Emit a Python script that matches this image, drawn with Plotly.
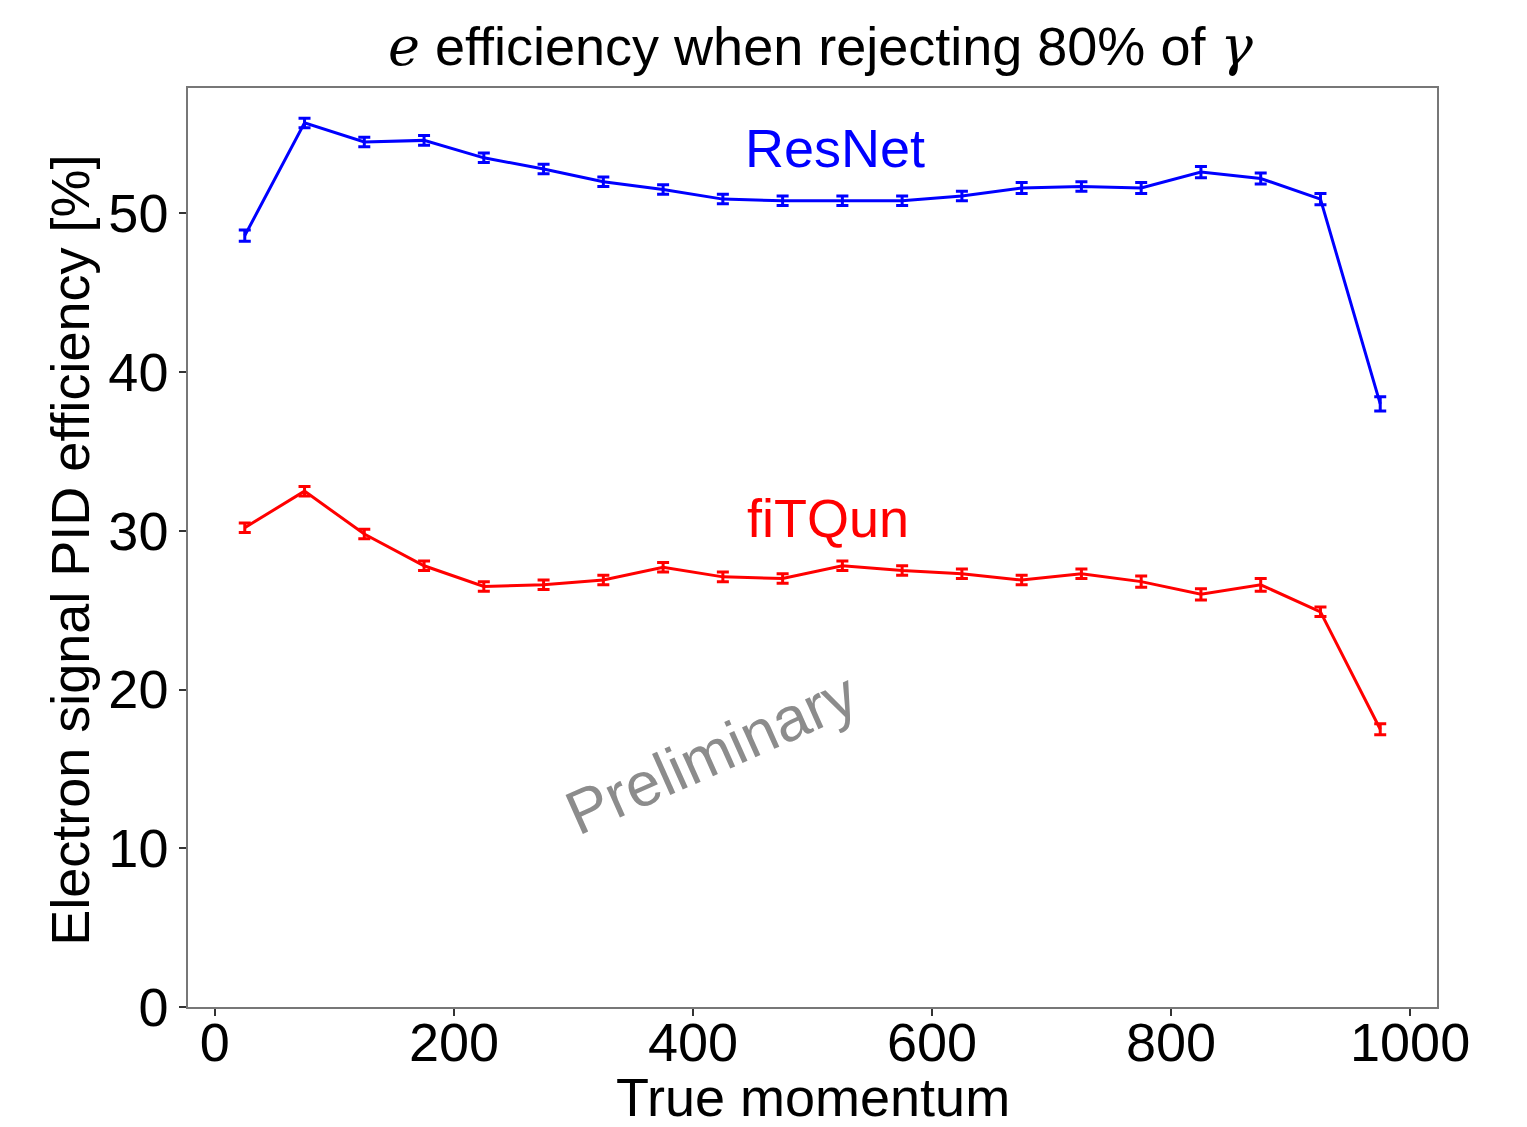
import plotly.graph_objects as go

momentum = [25, 75, 125, 175, 225, 275, 325, 375, 425, 475, 525, 575, 625, 675, 725, 775, 825, 875, 925, 975]
resnet_eff = [48.6, 55.7, 54.5, 54.6, 53.5, 52.8, 52.0, 51.5, 50.9, 50.8, 50.8, 50.8, 51.1, 51.6, 51.7, 51.6, 52.6, 52.2, 50.9, 38.0]
resnet_err = [0.35, 0.3, 0.3, 0.3, 0.3, 0.3, 0.3, 0.3, 0.3, 0.3, 0.3, 0.3, 0.3, 0.35, 0.3, 0.35, 0.35, 0.35, 0.35, 0.45]
fitqun_eff = [30.2, 32.5, 29.8, 27.8, 26.5, 26.6, 26.9, 27.7, 27.1, 27.0, 27.8, 27.5, 27.3, 26.9, 27.3, 26.8, 26.0, 26.6, 24.9, 17.5]
fitqun_err = [0.3, 0.3, 0.3, 0.3, 0.3, 0.3, 0.3, 0.3, 0.3, 0.3, 0.3, 0.3, 0.3, 0.3, 0.3, 0.35, 0.35, 0.4, 0.3, 0.35]

fig = go.Figure()
fig.add_trace(go.Scatter(
    x=momentum, y=resnet_eff, mode="lines", name="ResNet",
    line=dict(color="#0000ff", width=3),
    error_y=dict(type="data", array=resnet_err, color="#0000ff", thickness=3, width=6),
))
fig.add_trace(go.Scatter(
    x=momentum, y=fitqun_eff, mode="lines", name="fiTQun",
    line=dict(color="#ff0000", width=3),
    error_y=dict(type="data", array=fitqun_err, color="#ff0000", thickness=3, width=6),
))

font_main = "Liberation Sans, Arial, sans-serif"
fig.update_layout(
    width=1527, height=1127,
    paper_bgcolor="white", plot_bgcolor="white",
    showlegend=False,
    margin=dict(l=180, r=98, t=80, b=128, autoexpand=False),
    font=dict(family=font_main, color="black"),
    title=dict(
        text="<span style='font-family:DejaVu Serif, serif'><i>e</i></span> efficiency when rejecting 80% of <span style='font-family:DejaVu Serif, serif'><i>γ</i></span>",
        x=0.532, xanchor="center", y=0.966, yanchor="middle",
        font=dict(size=54, family=font_main, color="black"),
    ),
    xaxis=dict(
        range=[-22.5, 1022.5], tickvals=[0, 200, 400, 600, 800, 1000],
        ticks="outside", ticklen=7, tickwidth=1.5, tickcolor="#333",
        showline=True, linecolor="#777", linewidth=1.5, mirror=True,
        showgrid=False, zeroline=False, automargin=False,
        tickfont=dict(size=54), ticklabelstandoff=-20,
    ),
    yaxis=dict(
        range=[0, 57.9], tickvals=[0, 10, 20, 30, 40, 50],
        ticks="outside", ticklen=7, tickwidth=1.5, tickcolor="#333",
        showline=True, linecolor="#777", linewidth=1.5, mirror=True,
        showgrid=False, zeroline=False, automargin=False,
        tickfont=dict(size=54),
    ),
    annotations=[
        dict(x=0.5004, y=-0.098, xref="paper", yref="paper", text="True momentum",
             showarrow=False, xanchor="center", yanchor="middle", font=dict(size=54)),
        dict(x=-0.094, y=0.497, xref="paper", yref="paper", text="Electron signal PID efficiency [%]",
             showarrow=False, xanchor="center", yanchor="middle", textangle=-90, font=dict(size=54)),
        dict(x=519, y=54.1, xref="x", yref="y", text="ResNet", showarrow=False,
             font=dict(size=54, color="#0000ff")),
        dict(x=513, y=30.8, xref="x", yref="y", text="fiTQun", showarrow=False,
             font=dict(size=54, color="#ff0000")),
        dict(x=415, y=16.0, xref="x", yref="y", text="Preliminary", showarrow=False,
             textangle=-24, font=dict(size=62, color="#8c8c8c")),
    ],
)

fig.write_html("out.html")
